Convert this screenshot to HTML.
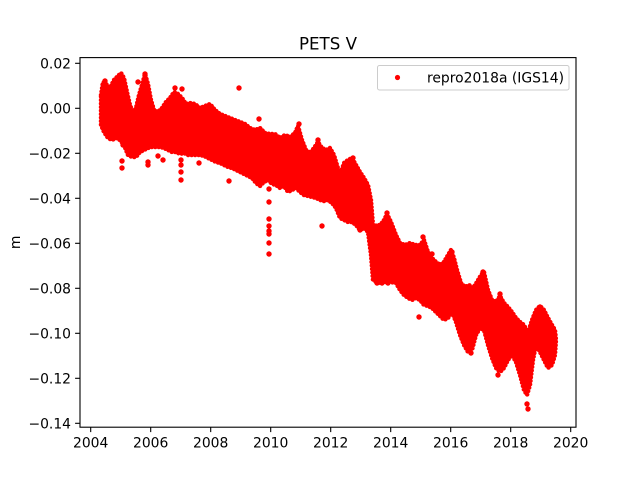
<!DOCTYPE html>
<html><head><meta charset="utf-8"><style>
html,body{margin:0;padding:0;background:#fff;}
svg{display:block;}
text{font-family:"DejaVu Sans","Liberation Sans",sans-serif;fill:#000;}
</style></head><body>
<svg width="640" height="480" viewBox="0 0 640 480" xmlns="http://www.w3.org/2000/svg">
<rect x="0" y="0" width="640" height="480" fill="#fff"/>
<text x="328" y="49.5" font-size="16.67" text-anchor="middle">PETS V</text>

<!-- data band -->
<g fill="#ff0000" stroke="#ff0000">
<polygon stroke-width="4.5" stroke-linejoin="round" stroke-linecap="round" stroke-dasharray="0 3.5" points="
101,95 103,82 106,84 110,88 114,80 118,76 121,73 124,78 127,92 130,105 133,113 136,108 139,95 142,85 145,74 148,84 151,100 154,110 158,112 162,108 166,102 170,98 174,92 178,94 182,98 186,104 190,103 195,104 200,108 205,106 210,104 215,110 220,114 225,116 230,118 235,120 240,122 245,124 250,128 255,130 260,128 265,133 270,134 275,134 280,138 285,135 290,137 295,133 298,126 302,140 306,150 310,153 314,148 318,142 322,148 326,150 330,148 334,155 337,165 340,175 344,163 348,160 352,158 356,165 360,172 364,178 368,185 371,200 373,225 378,226 383,222 387,214 391,222 396,235 400,243 405,245 410,243 415,245 420,245 424,240 428,252 432,258 436,262 440,265 444,262 448,255 451,250 454,258 457,270 461,283 465,287 469,285 473,288 477,282 481,275 484,272 488,290 492,300 496,302 500,296 504,303 508,307 512,312 516,318 520,322 524,325 528,333 532,320 536,310 540,306 544,310 548,318 552,325 555,330 556,340
556,340 555,355 552,365 548,368 544,360 540,352 536,345 533,360 530,385 527,395 524,390 520,375 516,362 512,355 508,360 504,368 500,372 496,368 492,358 488,345 484,330 480,328 476,335 472,350 468,352 464,345 460,335 456,322 452,312 448,318 444,320 440,316 436,312 432,308 428,306 424,305 420,300 416,298 412,300 408,298 404,295 400,290 396,283 390,282 384,282 378,283 373,280 371,255 368,232 364,228 360,230 356,225 352,222 348,222 344,220 340,218 336,208 332,203 328,200 324,201 320,200 316,198 312,197 308,196 304,195 300,192 296,188 292,190 288,192 284,186 280,188 276,185 272,184 268,180 264,182 260,186 256,183 252,178 248,176 244,174 240,172 236,170 232,168 228,167 224,165 220,163 216,162 212,160 208,158 204,156 200,155 196,155 192,155 188,155 184,153 180,154 176,152 172,152 168,150 164,148 160,147 156,147 152,147 148,148 144,150 140,152 136,157 132,157 128,155 124,145 120,140 116,138 112,140 108,138 104,132 101,125
"/>
</g>
<g fill="#ff0000">
<circle cx="122" cy="161" r="2.7"/><circle cx="122" cy="168" r="2.7"/>
<circle cx="123" cy="145" r="2.7"/>
<circle cx="148" cy="162" r="2.7"/><circle cx="148" cy="165" r="2.7"/>
<circle cx="158" cy="156" r="2.7"/><circle cx="163" cy="160" r="2.7"/>
<circle cx="181" cy="160" r="2.7"/><circle cx="181" cy="165" r="2.7"/><circle cx="181" cy="172" r="2.7"/><circle cx="181" cy="180" r="2.7"/>
<circle cx="199" cy="163" r="2.7"/>
<circle cx="105" cy="81" r="2.7"/><circle cx="145" cy="74" r="2.7"/><circle cx="138" cy="82" r="2.7"/>
<circle cx="175" cy="88" r="2.7"/><circle cx="182" cy="89" r="2.7"/>
<circle cx="239" cy="88" r="2.7"/>
<circle cx="229" cy="181" r="2.7"/>
<circle cx="259" cy="119" r="2.7"/>
<circle cx="269" cy="189" r="2.7"/><circle cx="269" cy="202" r="2.7"/><circle cx="269" cy="219" r="2.7"/><circle cx="269" cy="226" r="2.7"/><circle cx="269" cy="231" r="2.7"/><circle cx="269" cy="234" r="2.7"/><circle cx="269" cy="243" r="2.7"/><circle cx="269" cy="254" r="2.7"/>
<circle cx="299" cy="124" r="2.7"/>
<circle cx="318" cy="140" r="2.7"/>
<circle cx="322" cy="226" r="2.7"/>
<circle cx="353" cy="158" r="2.7"/>
<circle cx="360" cy="230" r="2.7"/>
<circle cx="387" cy="213" r="2.7"/>
<circle cx="377" cy="283" r="2.7"/><circle cx="382" cy="283" r="2.7"/><circle cx="388" cy="283" r="2.7"/>
<circle cx="419" cy="296" r="2.7"/><circle cx="419" cy="317" r="2.7"/>
<circle cx="423" cy="237" r="2.7"/>
<circle cx="432" cy="254" r="2.7"/>
<circle cx="452" cy="252" r="2.7"/>
<circle cx="471" cy="353" r="2.7"/>
<circle cx="483" cy="272" r="2.7"/>
<circle cx="498" cy="375" r="2.7"/>
<circle cx="500" cy="294" r="2.7"/>
<circle cx="527" cy="404" r="2.7"/><circle cx="528" cy="409" r="2.7"/>
<circle cx="540" cy="307" r="2.7"/>
</g>

<!-- axes frame -->
<rect x="80" y="57.6" width="496" height="369.6" fill="none" stroke="#000" stroke-width="1.1"/>

<!-- y ticks -->
<g stroke="#000" stroke-width="1.1">
<line x1="75.1" y1="63.3" x2="80" y2="63.3"/>
<line x1="75.1" y1="108.3" x2="80" y2="108.3"/>
<line x1="75.1" y1="153.3" x2="80" y2="153.3"/>
<line x1="75.1" y1="198.3" x2="80" y2="198.3"/>
<line x1="75.1" y1="243.3" x2="80" y2="243.3"/>
<line x1="75.1" y1="288.3" x2="80" y2="288.3"/>
<line x1="75.1" y1="333.3" x2="80" y2="333.3"/>
<line x1="75.1" y1="378.3" x2="80" y2="378.3"/>
<line x1="75.1" y1="423.3" x2="80" y2="423.3"/>
</g>
<g font-size="13.89" text-anchor="end">
<text x="71" y="68.3">0.02</text>
<text x="71" y="113.3">0.00</text>
<text x="71" y="158.3">−0.02</text>
<text x="71" y="203.3">−0.04</text>
<text x="71" y="248.3">−0.06</text>
<text x="71" y="293.3">−0.08</text>
<text x="71" y="338.3">−0.10</text>
<text x="71" y="383.3">−0.12</text>
<text x="71" y="428.3">−0.14</text>
</g>

<!-- x ticks -->
<g stroke="#000" stroke-width="1.1">
<line x1="90.7" y1="427.2" x2="90.7" y2="432.1"/>
<line x1="150.7" y1="427.2" x2="150.7" y2="432.1"/>
<line x1="210.7" y1="427.2" x2="210.7" y2="432.1"/>
<line x1="270.7" y1="427.2" x2="270.7" y2="432.1"/>
<line x1="330.7" y1="427.2" x2="330.7" y2="432.1"/>
<line x1="390.7" y1="427.2" x2="390.7" y2="432.1"/>
<line x1="450.7" y1="427.2" x2="450.7" y2="432.1"/>
<line x1="510.7" y1="427.2" x2="510.7" y2="432.1"/>
<line x1="570.7" y1="427.2" x2="570.7" y2="432.1"/>
</g>
<g font-size="13.89" text-anchor="middle">
<text x="90.7" y="447.5">2004</text>
<text x="150.7" y="447.5">2006</text>
<text x="210.7" y="447.5">2008</text>
<text x="270.7" y="447.5">2010</text>
<text x="330.7" y="447.5">2012</text>
<text x="390.7" y="447.5">2014</text>
<text x="450.7" y="447.5">2016</text>
<text x="510.7" y="447.5">2018</text>
<text x="570.7" y="447.5">2020</text>
</g>

<text x="20" y="242.4" font-size="13.89" text-anchor="middle" transform="rotate(-90 20 242.4)">m</text>

<!-- legend -->
<rect x="377.5" y="65.5" width="191.5" height="24.5" rx="2" ry="2" fill="#fff" fill-opacity="0.8" stroke="#cccccc" stroke-width="1"/>
<circle cx="397.5" cy="77.5" r="2.6" fill="#ff0000"/>
<text x="427" y="82.5" font-size="13.89">repro2018a (IGS14)</text>
</svg>
</body></html>
